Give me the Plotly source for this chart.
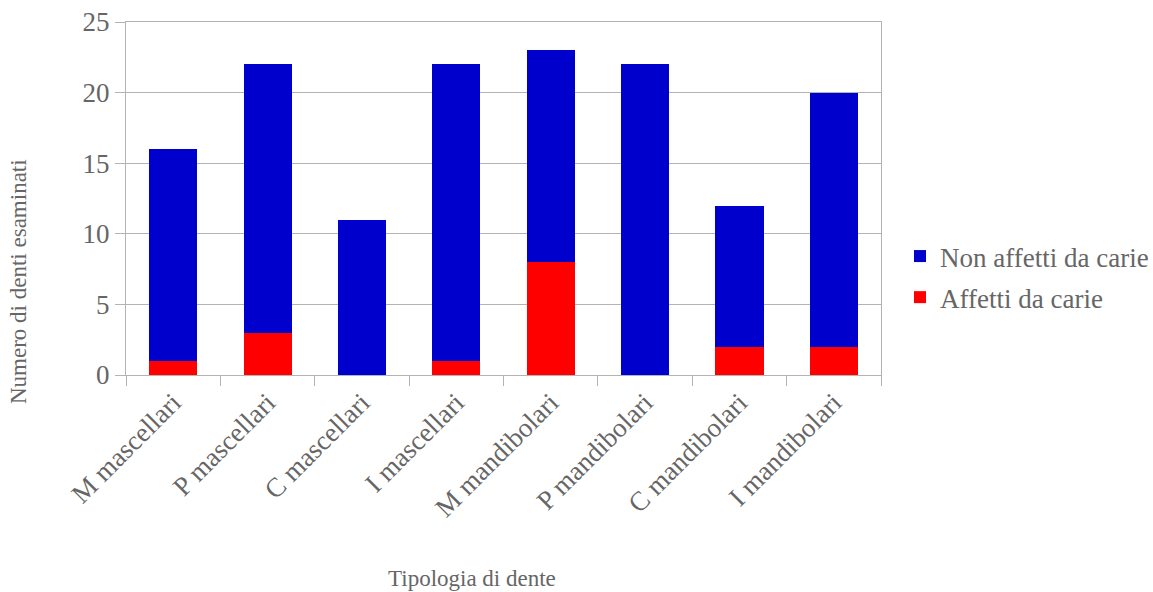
import plotly.graph_objects as go

categories = ["M mascellari", "P mascellari", "C mascellari", "I mascellari",
              "M mandibolari", "P mandibolari", "C mandibolari", "I mandibolari"]
affetti = [1, 3, 0, 1, 8, 0, 2, 2]
non_affetti = [15, 19, 11, 21, 15, 22, 10, 18]

FONT = "Liberation Serif"
GRAY = "#666666"

L, R, T, B = 126, 272, 22, 217
W, H = 1153, 592
pw = W - L - R
ph = H - T - B

def px_x(x):
    return (x - L) / pw

def px_y(y):
    return (H - B - y) / ph

fig = go.Figure()
fig.add_trace(go.Bar(x=categories, y=affetti, name="Affetti da carie", legendgroup="a",
                     legendrank=2,
                     marker=dict(color="#ff0000", line=dict(width=0))))
fig.add_trace(go.Bar(x=categories, y=non_affetti, name="Non affetti da carie", legendgroup="b",
                     legendrank=1,
                     marker=dict(color="#0000cc", line=dict(width=0))))

fig.update_layout(
    barmode="stack",
    bargap=0.49,
    width=W, height=H,
    margin=dict(l=L, r=R, t=T, b=B, autoexpand=False),
    paper_bgcolor="white", plot_bgcolor="white",
    font=dict(family=FONT, color=GRAY, size=26),
    legend=dict(xref="container", yref="container",
                x=900 / W, y=(H - 277) / H, xanchor="left", yanchor="middle",
                traceorder="grouped", font=dict(size=27, color=GRAY),
                itemwidth=30, tracegroupgap=3),
    xaxis=dict(showline=True, linecolor="#b3b3b3", linewidth=1, mirror=True,
               ticks="outside", tickson="boundaries", ticklen=10, tickcolor="#b3b3b3",
               tickangle=-45, tickfont=dict(size=27, color=GRAY), showgrid=False,
               automargin=False),
    yaxis=dict(range=[0, 25], dtick=5, showline=True, linecolor="#b3b3b3", linewidth=1,
               mirror=True, ticks="outside", ticklen=10, tickcolor="#b3b3b3",
               showgrid=True, gridcolor="#b3b3b3", gridwidth=1, zeroline=False,
               tickfont=dict(size=27, color=GRAY), automargin=False),
    annotations=[
        dict(text="Numero di denti esaminati", xref="paper", yref="paper",
             x=px_x(18), y=px_y(282), xanchor="center", yanchor="middle",
             showarrow=False, textangle=-90, font=dict(size=23, color=GRAY)),
        dict(text="Tipologia di dente", xref="paper", yref="paper",
             x=px_x(472), y=px_y(578), xanchor="center", yanchor="middle",
             showarrow=False, font=dict(size=23, color=GRAY)),
    ],
)

fig.write_html("out.html")
